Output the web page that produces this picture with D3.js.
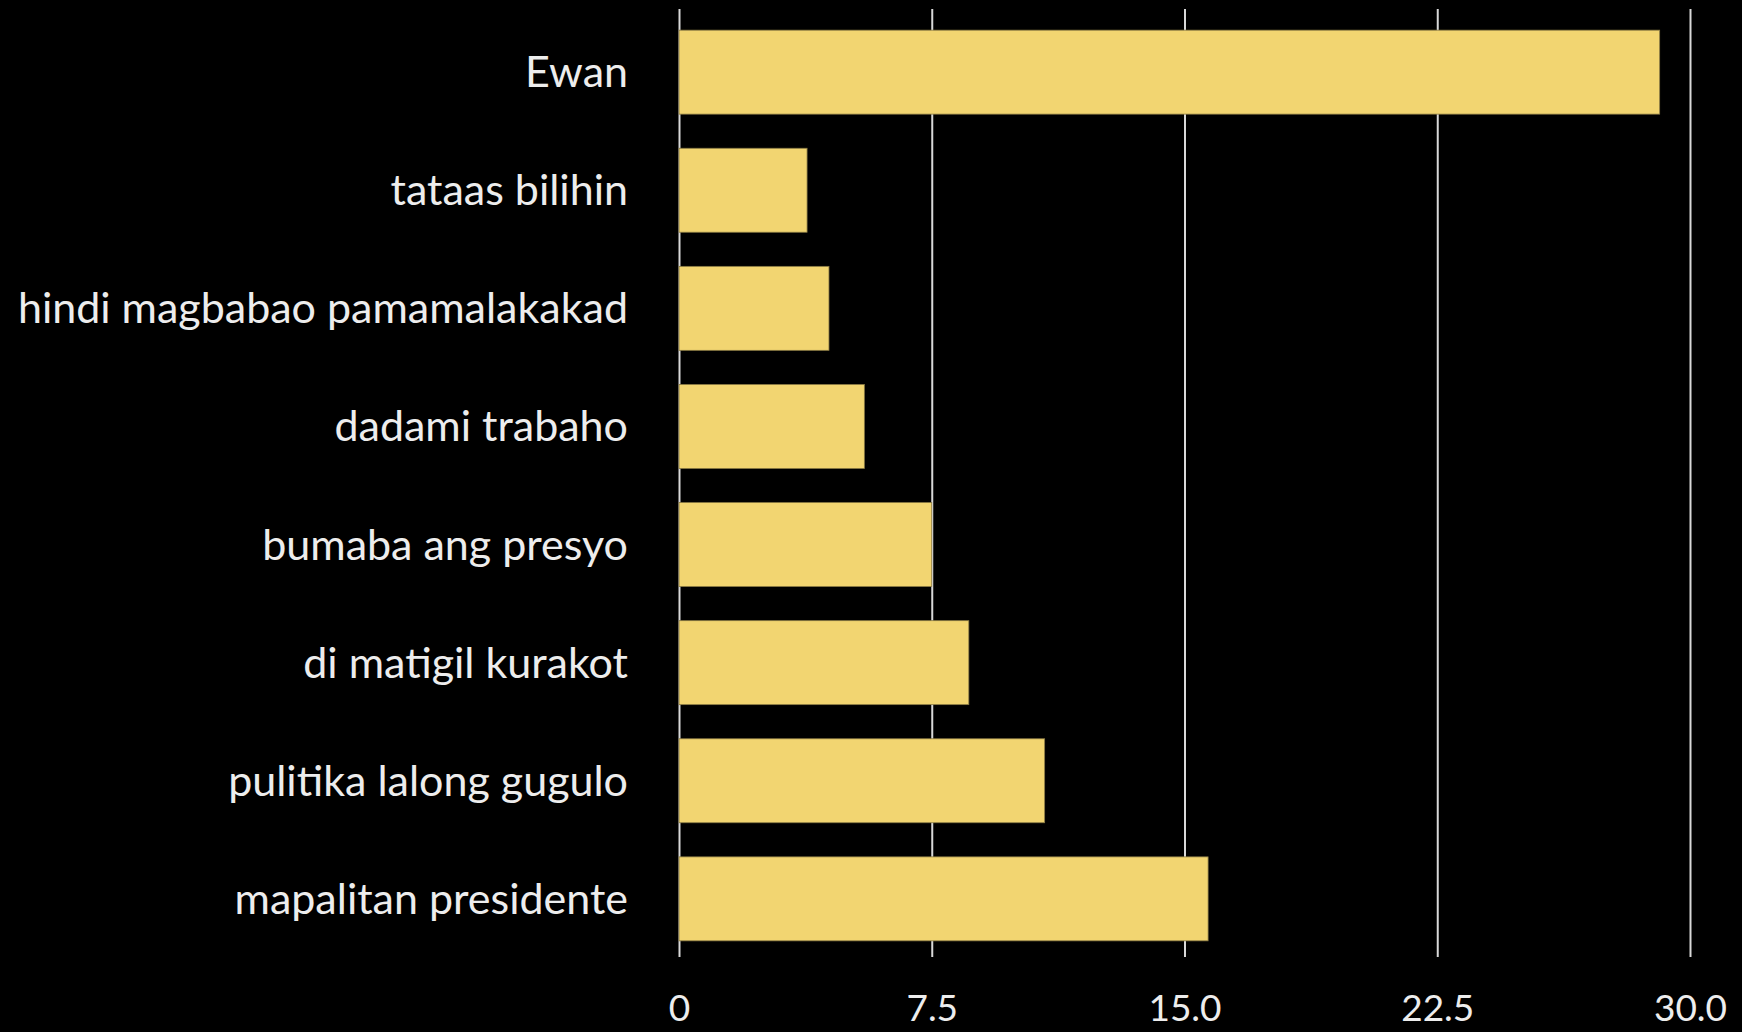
<!DOCTYPE html>
<meta charset="utf-8">
<head>
<script src="https://d3js.org/d3.v7.min.js"></script>
<style>
  html, body { margin: 0; padding: 0; background: #000; overflow: hidden; }
  #chart text { font-family: Lato, "Open Sans", sans-serif; fill: #ededed; }
</style>
</head>
<body>
<div id="chart"></div>
<script>
  // data
  const categories = ["Ewan", "tataas bilihin", "hindi magbabao pamamalakakad", "dadami trabaho",
    "bumaba ang presyo", "di matigil kurakot", "pulitika lalong gugulo", "mapalitan presidente"];
  const values = [29.1, 3.8, 4.45, 5.5, 7.5, 8.6, 10.85, 15.7];
  const ticks = [0, 7.5, 15, 22.5, 30];
  const tickLabels = ["0", "7.5", "15.0", "22.5", "30.0"];

  const W = 1742, H = 1032;
  const x0 = 679, x1 = 1690;
  const gridTop = 9, gridBottom = 957;

  const svg = d3.select("#chart").append("svg")
    .attr("width", W).attr("height", H);

  const x = d3.scaleLinear().domain([0, 30]).range([x0, x1]);
  const y = d3.scaleBand().domain(categories)
    .range([11.5, 959.5])
    .paddingInner(0.289)
    .paddingOuter(0.158);

  // grid lines + tick labels
  const xAxis = svg.append("g")
    .attr("transform", `translate(0,${gridBottom})`)
    .call(d3.axisBottom(x).tickValues(ticks)
      .tickSize(-(gridBottom - gridTop))
      .tickFormat((d, i) => tickLabels[i]));
  xAxis.select(".domain").remove();
  xAxis.selectAll("line").attr("stroke", "#d8d8d8").attr("stroke-width", 2);
  xAxis.selectAll("text").attr("y", 52).attr("dy", "0.32em").style("font-size", "37px");
  xAxis.lower();

  // bars
  svg.append("g").selectAll("rect")
    .data(values)
    .join("rect")
      .attr("x", x(0))
      .attr("y", (d, i) => y(categories[i]))
      .attr("width", d => x(d) - x(0))
      .attr("height", y.bandwidth())
      .attr("fill", "#f2d571")
      .attr("stroke", "#8a7a45")
      .attr("stroke-width", 0.8);

  // category labels
  svg.append("g").selectAll("text")
    .data(categories)
    .join("text")
      .attr("x", x0 - 51)
      .attr("y", d => y(d) + y.bandwidth() / 2)
      .attr("dy", "0.35em")
      .attr("text-anchor", "end")
      .style("font-size", "43px")
      .text(d => d);
</script>
</body>
